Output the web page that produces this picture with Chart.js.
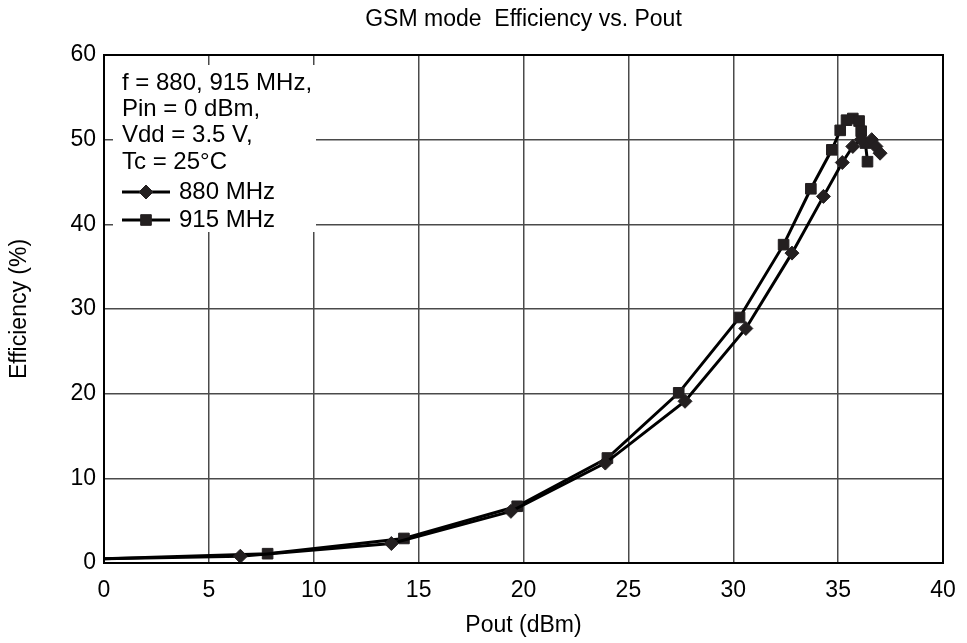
<!DOCTYPE html>
<html>
<head>
<meta charset="utf-8">
<script src="https://cdn.jsdelivr.net/npm/chart.js@4"></script>
<style>
  html, body { margin: 0; padding: 0; background: #fff; }
  #wrap { width: 967px; height: 643px; }
</style>
</head>
<body>
<div id="wrap"><canvas id="myChart" width="967" height="643"></canvas></div>
<script>
var FONT = "'Liberation Sans', Arial, Helvetica, sans-serif";
var INK = "#231f20";

// Pout (dBm) and efficiency (%) for each frequency
var pout880 = [0, 6.5, 13.7, 19.4, 23.9, 27.7, 30.6, 32.8, 34.3, 35.2, 35.7, 36.1, 36.6, 36.8, 37.0];
var eff880  = [0.5, 0.8, 2.3, 6.1, 11.8, 19.1, 27.7, 36.6, 43.3, 47.3, 49.2, 50.0, 50.0, 49.2, 48.4];

var pout915 = [0, 7.8, 14.3, 19.7, 24.0, 27.4, 30.3, 32.4, 33.7, 34.7, 35.1, 35.4, 35.7, 36.0, 36.1, 36.3, 36.4];
var eff915  = [0.5, 1.1, 2.9, 6.7, 12.4, 20.1, 29.0, 37.6, 44.2, 48.8, 51.1, 52.3, 52.5, 52.2, 51.0, 49.6, 47.4];

var xTicks = [0, 5, 10, 15, 20, 25, 30, 35, 40];
var yTicks = [0, 10, 20, 30, 40, 50, 60];

var noteLines = ["f = 880, 915 MHz,", "Pin = 0 dBm,", "Vdd = 3.5 V,", "Tc = 25\u00b0C"];
var seriesNames = ["880 MHz", "915 MHz"];

function pts(xs, ys) {
  return xs.map(function (x, i) { return { x: x, y: ys[i] }; });
}
// first point of each curve sits on the axis without a marker
function radii(n, r) {
  var a = [];
  for (var i = 0; i < n; i++) a.push(i === 0 ? 0 : r);
  return a;
}

// frame around the plot plus the condition/legend box in the top left corner
var notesBox = {
  id: "notesBox",
  afterDraw: function (chart) {
    var ctx = chart.ctx, a = chart.chartArea;
    ctx.save();
    ctx.strokeStyle = "#000";
    ctx.lineWidth = 2;
    ctx.strokeRect(a.left, a.top, a.right - a.left, a.bottom - a.top);

    var bx = a.left + 9, by = a.top + 10;
    ctx.fillStyle = "#fff";
    ctx.fillRect(bx, by, 203, 167);

    ctx.fillStyle = "#000";
    ctx.font = "24px " + FONT;
    ctx.textBaseline = "middle";
    ctx.textAlign = "left";
    var tx = a.left + 18;
    noteLines.forEach(function (s, i) {
      ctx.fillText(s, tx, a.top + 28 + i * 26.3);
    });

    var styles = ["rectRot", "rect"];
    var rs = [7, 7.5];
    seriesNames.forEach(function (s, i) {
      var y = a.top + 137 + i * 28;
      ctx.strokeStyle = "#000";
      ctx.lineWidth = 3;
      ctx.beginPath();
      ctx.moveTo(tx, y);
      ctx.lineTo(tx + 48, y);
      ctx.stroke();
      ctx.fillStyle = INK;
      ctx.strokeStyle = INK;
      ctx.lineWidth = 1;
      Chart.helpers.drawPoint(ctx, { pointStyle: styles[i], radius: rs[i], borderWidth: 1 }, tx + 24, y);
      ctx.fillStyle = "#000";
      ctx.fillText(s, tx + 57, y);
    });
    ctx.restore();
  }
};

new Chart("myChart", {
  type: "line",
  data: {
    datasets: [
      {
        label: seriesNames[0],
        data: pts(pout880, eff880),
        borderColor: "#000",
        borderWidth: 3,
        pointStyle: "rectRot",
        pointRadius: radii(pout880.length, 7),
        pointBackgroundColor: INK,
        pointBorderColor: INK,
        pointBorderWidth: 1,
        tension: 0
      },
      {
        label: seriesNames[1],
        data: pts(pout915, eff915),
        borderColor: "#000",
        borderWidth: 3,
        pointStyle: "rect",
        pointRadius: radii(pout915.length, 7.5),
        pointBackgroundColor: INK,
        pointBorderColor: INK,
        pointBorderWidth: 1,
        tension: 0
      }
    ]
  },
  options: {
    responsive: false,
    animation: false,
    events: [],
    layout: { padding: { left: 0, right: 24, top: 0, bottom: 0 } },
    plugins: {
      legend: { display: false },
      tooltip: { enabled: false },
      title: {
        display: true,
        fullSize: false,
        text: "GSM mode  Efficiency vs. Pout",
        color: "#000",
        font: { family: FONT, size: 23, weight: "normal" },
        padding: { top: 6, bottom: 21.4 }
      }
    },
    scales: {
      x: {
        type: "linear",
        min: 0,
        max: 40,
        afterBuildTicks: function (s) { s.ticks = xTicks.map(function (v) { return { value: v }; }); },
        afterFit: function (s) { s.height = 80; s.paddingLeft = 0; s.paddingRight = 0; },
        ticks: { color: "#000", font: { family: FONT, size: 23 }, padding: 14, maxRotation: 0 },
        grid: { color: "#4a4a4a", lineWidth: 1.5, drawTicks: false },
        border: { color: "#000", width: 2 },
        title: {
          display: true,
          text: "Pout (dBm)",
          color: "#000",
          font: { family: FONT, size: 23 },
          padding: { top: 0, bottom: 4 }
        }
      },
      y: {
        min: 0,
        max: 60,
        afterBuildTicks: function (s) { s.ticks = yTicks.map(function (v) { return { value: v }; }); },
        afterFit: function (s) { s.width = 104; s.paddingTop = 0; s.paddingBottom = 0; },
        ticks: { color: "#000", font: { family: FONT, size: 23 }, padding: 8 },
        grid: { color: "#4a4a4a", lineWidth: 1.5, drawTicks: false },
        border: { color: "#000", width: 2 },
        title: {
          display: true,
          text: "Efficiency (%)",
          color: "#000",
          font: { family: FONT, size: 23 },
          padding: { top: 6, bottom: 0 }
        }
      }
    }
  },
  plugins: [notesBox]
});
</script>
</body>
</html>
